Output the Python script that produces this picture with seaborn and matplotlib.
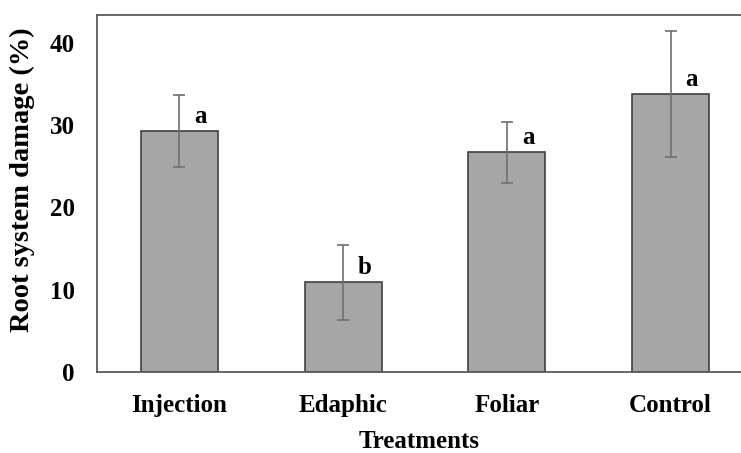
import matplotlib
matplotlib.use("Agg")
import matplotlib.pyplot as plt
import seaborn as sns

treatments = ["Injection", "Edaphic", "Foliar", "Control"]
damage = [29.3, 10.9, 26.7, 33.8]
damage_err = [4.4, 4.6, 3.75, 7.7]
letters = ["a", "b", "a", "a"]

sns.set_style("white")
plt.rcParams["font.family"] = ["Liberation Serif", "DejaVu Serif"]
plt.rcParams["font.weight"] = "bold"
plt.rcParams["text.color"] = "black"
plt.rcParams["axes.labelcolor"] = "black"
plt.rcParams["xtick.color"] = "black"
plt.rcParams["ytick.color"] = "black"

fig = plt.figure(figsize=(7.41, 4.53), dpi=100)
ax = fig.add_axes([97 / 741, 81 / 453, 1 - 97 / 741, (372 - 15) / 453])

sns.barplot(x=treatments, y=damage, color="#a6a6a6", saturation=1, width=0.47,
            edgecolor="#404040", linewidth=1.2, errorbar=None, ax=ax)
ax.errorbar(range(len(treatments)), damage, yerr=damage_err, fmt="none",
            ecolor="#707070", elinewidth=1.2, capsize=4, capthick=1.2)

for i, (m, e, lab) in enumerate(zip(damage, damage_err, letters)):
    ax.text(i + 0.13, m + 0.4, lab, ha="center", va="bottom",
            fontsize=18, fontweight="bold")

ax.set_xlim(-0.503, 3.43)
ax.set_ylim(0, 43.4)
ax.set_yticks([0, 10, 20, 30, 40])
ax.tick_params(axis="both", length=0, labelsize=18)
ax.tick_params(axis="y", pad=16)
ax.tick_params(axis="x", pad=16)
for lbl in ax.get_xticklabels() + ax.get_yticklabels():
    lbl.set_fontweight("bold")

for side in ["left", "top", "bottom"]:
    ax.spines[side].set_color("#5a5a5a")
    ax.spines[side].set_linewidth(1.3)
ax.spines["right"].set_visible(False)

ax.set_xlabel("Treatments", fontsize=18, fontweight="bold", labelpad=9)
ax.set_ylabel("Root system damage (%)", fontsize=20.5, fontweight="bold")
ax.yaxis.set_label_coords(-0.096, 0.54)

fig.savefig("out.png", dpi=100)
